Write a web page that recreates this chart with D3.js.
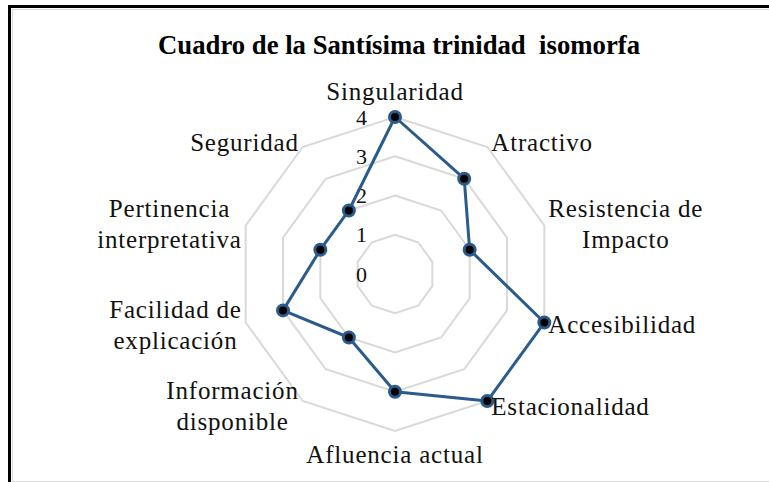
<!DOCTYPE html>
<html>
<head>
<meta charset="utf-8">
<script src="https://cdn.jsdelivr.net/npm/d3@7"></script>
<style>
  html, body { margin: 0; padding: 0; background: #fff; }
  svg { display: block; }
</style>
</head>
<body>
<div id="chart"></div>
<script>
const categories = [
	['Singularidad'],
	['Atractivo'],
	['Resistencia de', 'Impacto'],
	['Accesibilidad'],
	['Estacionalidad'],
	['Afluencia actual'],
	['Información', 'disponible'],
	['Facilidad de', 'explicación'],
	['Pertinencia', 'interpretativa'],
	['Seguridad'],
];
const values = [4, 3, 2, 4, 4, 3, 2, 3, 2, 2];
const ticks = [0, 1, 2, 3, 4];
const title = 'Cuadro de la Santísima trinidad  isomorfa';

const width = 769, height = 482;
const cx = 395, cy = 274, R = 157;
const lineColor = '#2a5b8b';
const gridColor = '#d9d9d9';
const serif = '"Liberation Serif", "Times New Roman", serif';

const svg = d3.select('#chart').append('svg')
	.attr('width', width)
	.attr('height', height);

// frame (cropped chart area)
svg.append('rect')
	.attr('x', 12.5).attr('y', 9.5)
	.attr('width', width + 20).attr('height', 472)
	.attr('fill', 'none').attr('stroke', gridColor).attr('stroke-width', 1);
svg.append('line')
	.attr('x1', 9.5).attr('x2', 9.5).attr('y1', 5).attr('y2', height)
	.attr('stroke', '#000').attr('stroke-width', 3);
svg.append('line')
	.attr('x1', 8).attr('x2', width).attr('y1', 6.5).attr('y2', 6.5)
	.attr('stroke', '#000').attr('stroke-width', 3);

svg.append('text')
	.attr('x', 399).attr('y', 54)
	.attr('text-anchor', 'middle')
	.attr('font-family', serif)
	.attr('font-weight', 'bold')
	.attr('font-size', 27)
	.attr('textLength', 482)
	.attr('lengthAdjust', 'spacingAndGlyphs')
	.attr('xml:space', 'preserve')
	.text(title);

const n = categories.length;
const angle = d3.scaleLinear().domain([0, n]).range([0, 2 * Math.PI]);
const r = d3.scaleLinear().domain([0, d3.max(ticks)]).range([0, R]);

const g = svg.append('g').attr('transform', `translate(${cx},${cy})`);

const pt = (i, v) => [Math.sin(angle(i)) * r(v), -Math.cos(angle(i)) * r(v)];
const closed = d3.line().curve(d3.curveLinearClosed);

// grid rings
g.append('g').selectAll('path')
	.data(ticks.filter(t => t > 0))
	.join('path')
	.attr('d', t => closed(d3.range(n).map(i => pt(i, t))))
	.attr('fill', 'none')
	.attr('stroke', gridColor)
	.attr('stroke-width', 2);

// tick labels
g.append('g').selectAll('text')
	.data(ticks)
	.join('text')
	.attr('x', -28)
	.attr('y', t => -r(t))
	.attr('dy', '0.35em')
	.attr('text-anchor', 'end')
	.attr('font-family', serif)
	.attr('font-size', 22)
	.attr('fill', '#111')
	.text(t => t);

// series line
g.append('path')
	.attr('d', closed(values.map((v, i) => pt(i, v))))
	.attr('fill', 'none')
	.attr('stroke', lineColor)
	.attr('stroke-width', 3)
	.attr('stroke-linejoin', 'round');

g.append('g').selectAll('circle')
	.data(values)
	.join('circle')
	.attr('cx', (v, i) => pt(i, v)[0])
	.attr('cy', (v, i) => pt(i, v)[1])
	.attr('r', 5.5)
	.attr('fill', '#000')
	.attr('stroke', lineColor)
	.attr('stroke-width', 3);

// category labels
const fs = 25, lh = 31;
const labels = g.append('g')
	.attr('font-family', serif)
	.attr('font-size', fs)
	.attr('letter-spacing', 0.8)
	.attr('fill', '#111');

categories.forEach((lines, i) => {
	const a = angle(i);
	const s = Math.sin(a), c = Math.cos(a);
	const [vx, vy] = pt(i, d3.max(ticks));
	const t = labels.append('text').attr('text-anchor', 'middle');
	const spans = lines.map((ln, j) => t.append('tspan').text(ln));
	const w = d3.max(spans, sp => sp.node().getComputedTextLength());
	let x, yc;
	if (Math.abs(s) < 0.1) {
		x = vx;
		const h = lines.length * lh;
		yc = c > 0 ? vy - 10 - h / 2 : vy + 8 + h / 2;
	} else {
		x = vx + Math.sign(s) * (4 + w / 2);
		yc = vy - 6 * c;
	}
	spans.forEach((sp, j) => {
		sp.attr('x', x)
			.attr('y', yc + (j - (lines.length - 1) / 2) * lh)
			.attr('dy', '0.35em');
	});
});
</script>
</body>
</html>
